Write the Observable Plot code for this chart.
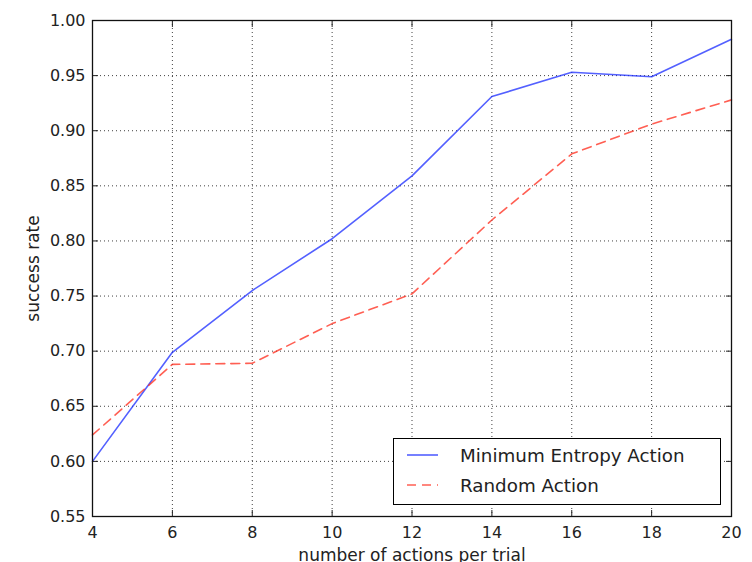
<!DOCTYPE html>
<html>
<head>
<meta charset="utf-8">
<script src="https://cdn.jsdelivr.net/npm/d3@7"></script>
<script src="https://cdn.jsdelivr.net/npm/@observablehq/plot@0.6"></script>
<style>
  body { margin: 0; background: #fff; font-family: "DejaVu Sans", sans-serif; }
  #wrap { position: relative; width: 752px; height: 562px; }
  #legend { position: absolute; left: 393px; top: 438px; width: 328px; height: 67px;
            border: 1.5px solid #000; background: #fff; box-sizing: border-box; }
  .row { position: absolute; left: 0; display: flex; align-items: center; font-size: 18.3px; color: #222; }
  .row svg { margin-left: 13px; margin-right: 22px; }
</style>
</head>
<body>
<div id="wrap"></div>
<script>
const actions = [4, 6, 8, 10, 12, 14, 16, 18, 20];
const minEntropy = [0.600, 0.699, 0.755, 0.802, 0.859, 0.931, 0.953, 0.949, 0.983];
const randomAction = [0.624, 0.688, 0.689, 0.725, 0.752, 0.819, 0.879, 0.906, 0.928];
const xTicks = [4, 6, 8, 10, 12, 14, 16, 18, 20];
const yTicks = [0.55, 0.60, 0.65, 0.70, 0.75, 0.80, 0.85, 0.90, 0.95, 1.00];
const seriesNames = ["Minimum Entropy Action", "Random Action"];
const colors = ["#1a2bff", "#ff2a1a"];

const dataA = actions.map((x, i) => ({x, y: minEntropy[i]}));
const dataB = actions.map((x, i) => ({x, y: randomAction[i]}));

const chart = Plot.plot({
  width: 752,
  height: 562,
  marginLeft: 92,
  marginRight: 21,
  marginTop: 20,
  marginBottom: 46,
  style: {fontFamily: "DejaVu Sans, sans-serif", fontSize: "16px", color: "#222", background: "#fff"},
  x: {domain: [4, 20]},
  y: {domain: [0.55, 1.0]},
  marks: [
    Plot.gridX(xTicks, {stroke: "#000", strokeOpacity: 0.75, strokeDasharray: "1,3"}),
    Plot.gridY(yTicks, {stroke: "#000", strokeOpacity: 0.75, strokeDasharray: "1,3"}),
    Plot.line(dataA, {x: "x", y: "y", stroke: colors[0], strokeOpacity: 0.75, strokeWidth: 1.6}),
    Plot.line(dataB, {x: "x", y: "y", stroke: colors[1], strokeOpacity: 0.75, strokeWidth: 1.6, strokeDasharray: "9,6"}),
    Plot.axisX(xTicks, {anchor: "bottom", tickSize: -6, tickPadding: 16, tickFormat: d => String(d), label: "number of actions per trial", labelAnchor: "center", labelArrow: "none", labelOffset: 44, fontSize: 16}),
    Plot.axisX(xTicks, {anchor: "top", tickSize: -6, tickFormat: () => "", label: null}),
    Plot.axisY(yTicks, {anchor: "left", tickSize: -6, tickPadding: 13, tickFormat: d3.format(".2f"), label: "success rate", labelAnchor: "center", labelArrow: "none", labelOffset: 66, fontSize: 16}),
    Plot.axisY(yTicks, {anchor: "right", tickSize: -6, tickFormat: () => "", label: null}),
    Plot.frame({stroke: "#111", strokeWidth: 1.3})
  ]
});
document.getElementById("wrap").appendChild(chart);

chart.querySelectorAll("[aria-label='x-axis label'] text, [aria-label='y-axis label'] text").forEach(t => t.setAttribute("font-size", "17px"));

const legend = document.createElement("div");
legend.id = "legend";
seriesNames.forEach((name, i) => {
  const row = document.createElement("div");
  row.className = "row";
  row.style.top = (i === 0 ? 4 : 34) + "px";
  const dash = i === 1 ? 'stroke-dasharray="9,6"' : "";
  row.innerHTML = `<svg width="31" height="24"><line x1="0" y1="12" x2="31" y2="12" stroke="${colors[i]}" stroke-opacity="0.75" stroke-width="1.6" ${dash}/></svg><span>${name}</span>`;
  legend.appendChild(row);
});
document.getElementById("wrap").appendChild(legend);
</script>
</body>
</html>
